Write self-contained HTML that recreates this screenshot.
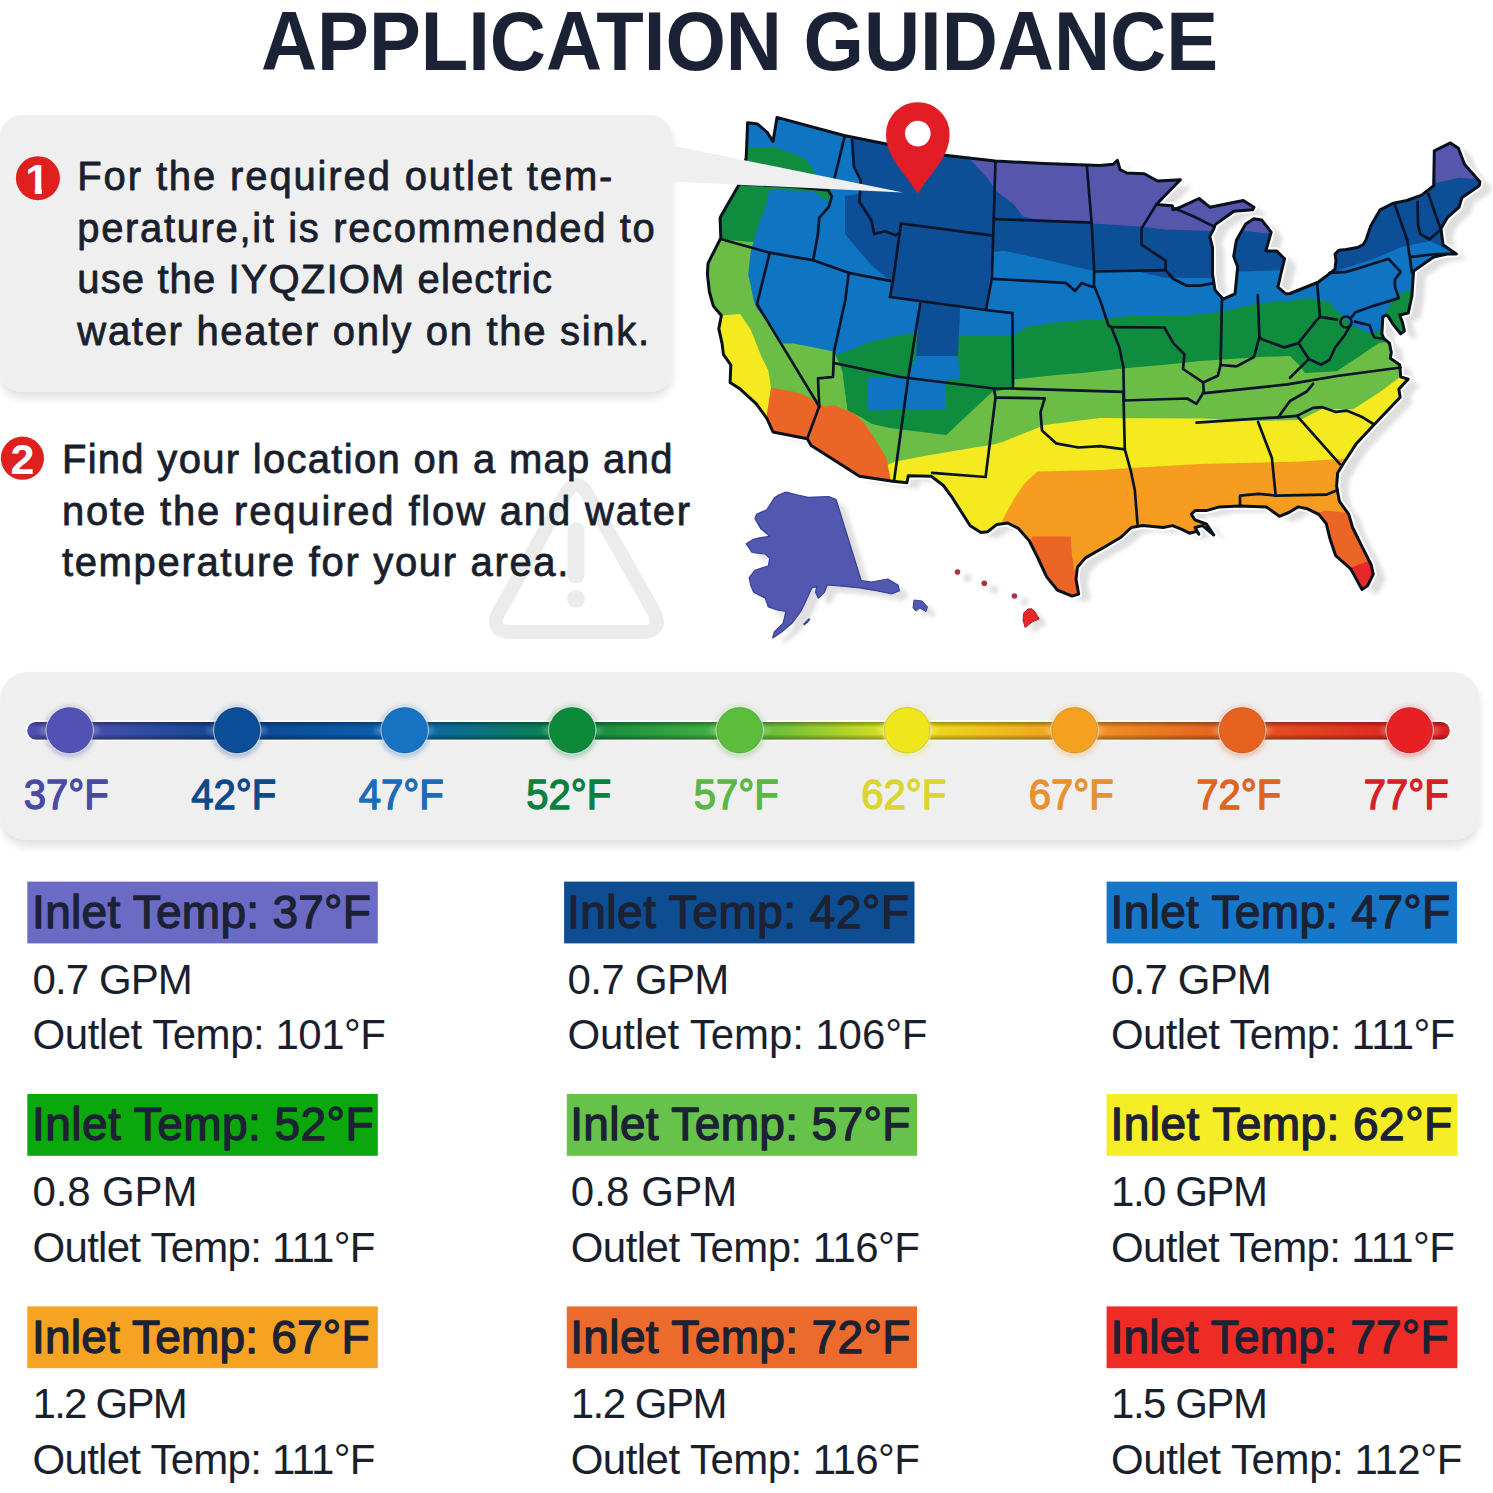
<!DOCTYPE html>
<html><head><meta charset="utf-8"><title>Application Guidance</title>
<style>html,body{margin:0;padding:0;background:#fff;}svg{display:block;}</style>
</head><body>
<svg width="1493" height="1493" viewBox="0 0 1493 1493">
<rect width="1493" height="1493" fill="#ffffff"/>
<defs>
<filter id="sh" x="-10%" y="-20%" width="120%" height="150%">
  <feGaussianBlur in="SourceAlpha" stdDeviation="5"/>
  <feOffset dx="0" dy="6" result="b"/>
  <feComponentTransfer><feFuncA type="linear" slope="0.13"/></feComponentTransfer>
  <feMerge><feMergeNode/><feMergeNode in="SourceGraphic"/></feMerge>
</filter>
<filter id="glow" x="-50%" y="-50%" width="200%" height="200%">
  <feGaussianBlur in="SourceGraphic" stdDeviation="2.5"/>
</filter>
<linearGradient id="bar" x1="27" y1="0" x2="1450" y2="0" gradientUnits="userSpaceOnUse">
  <stop offset="0" stop-color="#4f4fb0"/>
  <stop offset="0.14" stop-color="#0c4a92"/>
  <stop offset="0.26" stop-color="#0f5fb0"/>
  <stop offset="0.38" stop-color="#0c8a3c"/>
  <stop offset="0.50" stop-color="#4cb040"/>
  <stop offset="0.62" stop-color="#e6e020"/>
  <stop offset="0.74" stop-color="#f29a20"/>
  <stop offset="0.86" stop-color="#e45a20"/>
  <stop offset="1" stop-color="#d82020"/>
</linearGradient>
</defs>
<text x="261" y="70" font-family="Liberation Sans, sans-serif" font-weight="700" font-size="83" fill="#1b2236" textLength="957" lengthAdjust="spacingAndGlyphs">APPLICATION GUIDANCE</text>
<g filter="url(#sh)"><rect x="0" y="115" width="672" height="277" rx="22" fill="#efeff0"/></g>
<g id="map">
<defs><clipPath id="usclip"><polygon points="747.6,122.8 757.6,124.1 767.0,132.1 773.0,141.5 777.0,117.4 844.0,135.5 887.5,144.2 942.9,154.9 995.1,161.0 1044.0,163.6 1100.0,165.6 1113.4,164.3 1117.4,160.3 1120.1,169.7 1126.8,173.0 1144.2,173.7 1157.6,181.0 1180.4,179.7 1156.3,204.5 1172.3,205.8 1173.0,209.8 1180.4,207.2 1199.1,198.5 1209.8,207.2 1243.3,200.5 1254.0,207.2 1252.7,209.8 1234.0,211.2 1215.2,224.6 1213.9,228.6 1209.8,236.6 1212.5,247.3 1212.5,274.2 1215.0,290.0 1223.0,299.1 1235.0,293.8 1237.7,267.0 1233.7,256.3 1236.4,240.2 1245.7,224.1 1253.8,218.8 1261.8,220.1 1271.2,232.1 1265.8,250.9 1276.5,250.9 1284.6,258.9 1280.6,275.0 1277.9,287.1 1285.9,293.8 1290.0,293.5 1308.8,286.0 1318.1,282.2 1329.4,273.8 1335.0,269.1 1336.0,260.6 1335.0,254.1 1338.8,250.3 1346.3,249.4 1357.5,247.5 1363.1,244.7 1366.0,240.0 1370.7,225.9 1380.1,209.8 1393.5,203.1 1406.9,200.5 1421.6,195.1 1433.7,185.7 1434.3,150.9 1450.4,142.9 1458.4,148.2 1464.5,164.3 1479.9,181.7 1479.2,185.7 1461.8,197.8 1459.1,207.2 1447.1,217.9 1441.0,228.6 1443.0,244.7 1456.4,254.0 1447.1,254.0 1433.7,257.0 1413.6,271.0 1411.9,296.3 1408.2,313.1 1399.7,315.0 1402.5,322.5 1404.4,331.0 1400.7,333.8 1393.1,324.4 1388.5,316.9 1386.6,315.0 1382.8,316.9 1381.9,333.8 1383.8,338.5 1389.4,343.1 1391.3,352.5 1390.3,358.2 1399.7,364.7 1400.7,376.9 1408.2,379.1 1398.8,389.1 1400.2,397.2 1374.7,424.0 1356.0,444.1 1343.2,463.8 1337.6,473.1 1336.6,486.3 1339.4,501.3 1348.8,514.4 1352.6,527.5 1361.9,546.3 1371.3,565.0 1373.2,574.4 1367.6,585.7 1361.9,589.4 1350.7,568.8 1335.7,555.7 1330.0,538.8 1326.3,523.8 1318.8,514.4 1307.5,508.8 1298.2,506.9 1288.8,512.5 1279.4,516.3 1266.3,506.9 1240.0,506.0 1219.4,506.9 1206.3,510.6 1195.0,510.6 1191.3,514.4 1195.0,520.0 1206.3,523.8 1213.8,535.0 1202.5,525.6 1195.0,527.5 1198.8,534.1 1196.9,531.3 1189.4,533.2 1181.9,529.4 1172.5,525.6 1163.1,527.5 1142.5,525.6 1131.3,527.5 1120.2,537.8 1104.1,547.2 1085.4,557.9 1077.4,567.3 1076.0,579.3 1078.7,594.1 1072.0,596.1 1057.3,590.0 1046.5,576.6 1037.2,556.5 1029.1,540.5 1018.4,528.4 1007.7,523.0 997.0,524.4 987.6,531.8 980.9,532.4 970.2,525.7 960.8,511.0 951.4,496.3 943.4,485.5 931.3,476.2 908.3,475.7 906.9,482.7 892.8,481.3 859.4,476.2 834.0,460.1 811.2,445.4 807.2,438.7 773.0,432.0 767.0,418.6 756.3,403.9 740.2,389.1 730.1,382.4 730.8,365.0 723.4,354.3 722.1,343.6 718.8,328.8 721.4,315.5 713.4,306.1 709.4,292.0 707.4,274.2 708.0,263.4 720.8,238.0 720.1,217.9 721.4,215.2 739.5,183.7 746.2,157.6"/></clipPath><filter id="msh" x="-5%" y="-5%" width="110%" height="110%"><feGaussianBlur stdDeviation="2.2"/></filter></defs>
<g fill="#dfdfdf" filter="url(#msh)">
<polygon points="759.6,128.8 769.6,130.1 779.0,138.1 785.0,147.5 789.0,123.4 856.0,141.5 899.5,150.2 954.9,160.9 1007.1,167.0 1056.0,169.6 1112.0,171.6 1125.4,170.3 1129.4,166.3 1132.1,175.7 1138.8,179.0 1156.2,179.7 1169.6,187.0 1192.4,185.7 1168.3,210.5 1184.3,211.8 1185.0,215.8 1192.4,213.2 1211.1,204.5 1221.8,213.2 1255.3,206.5 1266.0,213.2 1264.7,215.8 1246.0,217.2 1227.2,230.6 1225.9,234.6 1221.8,242.6 1224.5,253.3 1224.5,280.2 1227.0,296.0 1235.0,305.1 1247.0,299.8 1249.7,273.0 1245.7,262.3 1248.4,246.2 1257.7,230.1 1265.8,224.8 1273.8,226.1 1283.2,238.1 1277.8,256.9 1288.5,256.9 1296.6,264.9 1292.6,281.0 1289.9,293.1 1297.9,299.8 1302.0,299.5 1320.8,292.0 1330.1,288.2 1341.4,279.8 1347.0,275.1 1348.0,266.6 1347.0,260.1 1350.8,256.3 1358.3,255.4 1369.5,253.5 1375.1,250.7 1378.0,246.0 1382.7,231.9 1392.1,215.8 1405.5,209.1 1418.9,206.5 1433.6,201.1 1445.7,191.7 1446.3,156.9 1462.4,148.9 1470.4,154.2 1476.5,170.3 1491.9,187.7 1491.2,191.7 1473.8,203.8 1471.1,213.2 1459.1,223.9 1453.0,234.6 1455.0,250.7 1468.4,260.0 1459.1,260.0 1445.7,263.0 1425.6,277.0 1423.9,302.3 1420.2,319.1 1411.7,321.0 1414.5,328.5 1416.4,337.0 1412.7,339.8 1405.1,330.4 1400.5,322.9 1398.6,321.0 1394.8,322.9 1393.9,339.8 1395.8,344.5 1401.4,349.1 1403.3,358.5 1402.3,364.2 1411.7,370.7 1412.7,382.9 1420.2,385.1 1410.8,395.1 1412.2,403.2 1386.7,430.0 1368.0,450.1 1355.2,469.8 1349.6,479.1 1348.6,492.3 1351.4,507.3 1360.8,520.4 1364.6,533.5 1373.9,552.3 1383.3,571.0 1385.2,580.4 1379.6,591.7 1373.9,595.4 1362.7,574.8 1347.7,561.7 1342.0,544.8 1338.3,529.8 1330.8,520.4 1319.5,514.8 1310.2,512.9 1300.8,518.5 1291.4,522.3 1278.3,512.9 1252.0,512.0 1231.4,512.9 1218.3,516.6 1207.0,516.6 1203.3,520.4 1207.0,526.0 1218.3,529.8 1225.8,541.0 1214.5,531.6 1207.0,533.5 1210.8,540.1 1208.9,537.3 1201.4,539.2 1193.9,535.4 1184.5,531.6 1175.1,533.5 1154.5,531.6 1143.3,533.5 1132.2,543.8 1116.1,553.2 1097.4,563.9 1089.4,573.3 1088.0,585.3 1090.7,600.1 1084.0,602.1 1069.3,596.0 1058.5,582.6 1049.2,562.5 1041.1,546.5 1030.4,534.4 1019.7,529.0 1009.0,530.4 999.6,537.8 992.9,538.4 982.2,531.7 972.8,517.0 963.4,502.3 955.4,491.5 943.3,482.2 920.3,481.7 918.9,488.7 904.8,487.3 871.4,482.2 846.0,466.1 823.2,451.4 819.2,444.7 785.0,438.0 779.0,424.6 768.3,409.9 752.2,395.1 742.1,388.4 742.8,371.0 735.4,360.3 734.1,349.6 730.8,334.8 733.4,321.5 725.4,312.1 721.4,298.0 719.4,280.2 720.0,269.4 732.8,244.0 732.1,223.9 733.4,221.2 751.5,189.7 758.2,163.6"/>
<polygon points="787.6,502.0 795.0,499.1 806.8,502.0 817.1,504.3 837.7,503.5 845.1,506.5 870.2,587.5 880.5,589.0 896.7,586.0 907.0,592.0 908.5,597.8 901.1,600.8 886.4,597.8 868.7,594.9 854.0,593.4 836.3,592.0 833.3,599.3 827.4,605.2 824.5,599.3 825.9,593.4 820.8,594.9 814.2,609.6 809.7,618.5 800.9,630.3 790.6,639.1 781.7,645.0 783.2,639.1 792.0,630.3 795.0,618.5 786.2,617.0 777.3,614.0 774.4,605.2 762.6,599.3 759.6,592.0 758.2,584.6 764.0,577.2 777.3,572.8 778.8,565.4 774.4,561.0 761.1,559.5 755.2,550.7 762.6,546.3 768.5,544.8 778.8,543.3 769.9,535.9 764.0,525.6 765.5,521.2 775.8,516.8 783.2,505.0"/>
<polygon points="922.0,606.0 930.0,607.0 935.5,613.0 934.0,617.5 928.0,614.0 924.0,617.0 921.0,614.0"/>
<polygon points="1031.8,618.8 1036.0,615.0 1039.8,614.8 1043.0,618.0 1047.2,624.8 1040.0,628.0 1033.1,633.5 1031.0,626.0"/>
<circle cx="967.5" cy="578" r="4"/>
<circle cx="994.3" cy="589.3" r="4"/>
<circle cx="1024.4" cy="602" r="4"/>
</g>
<polygon points="747.6,122.8 757.6,124.1 767.0,132.1 773.0,141.5 777.0,117.4 844.0,135.5 887.5,144.2 942.9,154.9 995.1,161.0 1044.0,163.6 1100.0,165.6 1113.4,164.3 1117.4,160.3 1120.1,169.7 1126.8,173.0 1144.2,173.7 1157.6,181.0 1180.4,179.7 1156.3,204.5 1172.3,205.8 1173.0,209.8 1180.4,207.2 1199.1,198.5 1209.8,207.2 1243.3,200.5 1254.0,207.2 1252.7,209.8 1234.0,211.2 1215.2,224.6 1213.9,228.6 1209.8,236.6 1212.5,247.3 1212.5,274.2 1215.0,290.0 1223.0,299.1 1235.0,293.8 1237.7,267.0 1233.7,256.3 1236.4,240.2 1245.7,224.1 1253.8,218.8 1261.8,220.1 1271.2,232.1 1265.8,250.9 1276.5,250.9 1284.6,258.9 1280.6,275.0 1277.9,287.1 1285.9,293.8 1290.0,293.5 1308.8,286.0 1318.1,282.2 1329.4,273.8 1335.0,269.1 1336.0,260.6 1335.0,254.1 1338.8,250.3 1346.3,249.4 1357.5,247.5 1363.1,244.7 1366.0,240.0 1370.7,225.9 1380.1,209.8 1393.5,203.1 1406.9,200.5 1421.6,195.1 1433.7,185.7 1434.3,150.9 1450.4,142.9 1458.4,148.2 1464.5,164.3 1479.9,181.7 1479.2,185.7 1461.8,197.8 1459.1,207.2 1447.1,217.9 1441.0,228.6 1443.0,244.7 1456.4,254.0 1447.1,254.0 1433.7,257.0 1413.6,271.0 1411.9,296.3 1408.2,313.1 1399.7,315.0 1402.5,322.5 1404.4,331.0 1400.7,333.8 1393.1,324.4 1388.5,316.9 1386.6,315.0 1382.8,316.9 1381.9,333.8 1383.8,338.5 1389.4,343.1 1391.3,352.5 1390.3,358.2 1399.7,364.7 1400.7,376.9 1408.2,379.1 1398.8,389.1 1400.2,397.2 1374.7,424.0 1356.0,444.1 1343.2,463.8 1337.6,473.1 1336.6,486.3 1339.4,501.3 1348.8,514.4 1352.6,527.5 1361.9,546.3 1371.3,565.0 1373.2,574.4 1367.6,585.7 1361.9,589.4 1350.7,568.8 1335.7,555.7 1330.0,538.8 1326.3,523.8 1318.8,514.4 1307.5,508.8 1298.2,506.9 1288.8,512.5 1279.4,516.3 1266.3,506.9 1240.0,506.0 1219.4,506.9 1206.3,510.6 1195.0,510.6 1191.3,514.4 1195.0,520.0 1206.3,523.8 1213.8,535.0 1202.5,525.6 1195.0,527.5 1198.8,534.1 1196.9,531.3 1189.4,533.2 1181.9,529.4 1172.5,525.6 1163.1,527.5 1142.5,525.6 1131.3,527.5 1120.2,537.8 1104.1,547.2 1085.4,557.9 1077.4,567.3 1076.0,579.3 1078.7,594.1 1072.0,596.1 1057.3,590.0 1046.5,576.6 1037.2,556.5 1029.1,540.5 1018.4,528.4 1007.7,523.0 997.0,524.4 987.6,531.8 980.9,532.4 970.2,525.7 960.8,511.0 951.4,496.3 943.4,485.5 931.3,476.2 908.3,475.7 906.9,482.7 892.8,481.3 859.4,476.2 834.0,460.1 811.2,445.4 807.2,438.7 773.0,432.0 767.0,418.6 756.3,403.9 740.2,389.1 730.1,382.4 730.8,365.0 723.4,354.3 722.1,343.6 718.8,328.8 721.4,315.5 713.4,306.1 709.4,292.0 707.4,274.2 708.0,263.4 720.8,238.0 720.1,217.9 721.4,215.2 739.5,183.7 746.2,157.6" fill="none" stroke="#ffffff" stroke-width="7" stroke-linejoin="round"/>
<g clip-path="url(#usclip)">
<rect x="690" y="100" width="810" height="520" fill="#0f74c2"/>
<polygon points="852.0,130.0 852.0,138.0 854.0,167.0 860.7,180.4 859.4,194.0 845.0,196.0 845.0,234.0 860.0,252.0 874.0,267.5 890.0,280.5 890.0,297.0 920.0,301.5 916.0,356.0 958.0,356.0 960.0,306.0 986.0,310.4 992.7,252.0 1004.1,250.7 1047.0,260.1 1092.5,270.8 1140.0,272.0 1165.0,277.7 1213.0,278.0 1240.0,271.5 1290.0,270.0 1336.0,271.0 1374.4,258.8 1402.5,246.6 1430.0,241.0 1453.7,252.7 1495.0,250.0 1495.0,130.0" fill="#0c4f96"/>
<polygon points="955.0,140.0 971.0,160.0 987.0,177.7 996.4,191.0 1013.9,204.5 1023.0,216.5 1045.0,221.0 1092.0,223.5 1141.0,226.5 1165.0,229.5 1213.0,231.0 1245.0,231.0 1262.0,233.0 1300.0,233.0 1300.0,140.0" fill="#5656ad"/>
<polygon points="1430.0,140.0 1436.0,183.0 1459.1,177.7 1490.0,180.0 1490.0,140.0" fill="#5656ad"/>
<polygon points="834.0,356.0 850.0,350.0 870.0,342.0 900.0,335.0 920.0,333.0 960.0,335.0 1013.5,335.1 1026.9,327.1 1060.4,321.7 1100.6,319.0 1140.8,315.0 1180.0,316.0 1220.0,312.0 1260.0,303.0 1290.0,301.0 1308.8,298.0 1318.0,300.0 1329.4,302.0 1336.9,311.3 1342.5,315.0 1350.0,324.0 1370.0,333.8 1380.0,331.0 1384.0,315.0 1395.0,298.0 1406.0,290.6 1430.0,288.0 1430.0,620.0 834.0,620.0" fill="#108c3f"/>
<polygon points="920.0,301.5 960.0,306.0 958.0,356.0 916.0,356.0" fill="#0c4f96"/>
<polygon points="916.0,356.0 958.0,356.0 960.0,379.0 908.0,378.0" fill="#0f74c2"/>
<polygon points="868.0,378.0 946.0,378.0 946.0,409.0 868.0,410.6" fill="#0f74c2"/>
<polygon points="700.0,146.0 746.0,147.0 772.3,147.0 793.8,153.6 807.2,160.3 813.9,171.0 820.0,182.0 830.0,186.0 833.0,196.0 826.0,201.0 815.0,192.0 769.7,189.0 765.6,207.2 757.6,227.3 753.6,242.0 700.0,242.0" fill="#108c3f"/>
<polygon points="842.0,370.4 847.4,410.6 860.7,417.3 871.5,424.0 890.0,428.0 946.3,434.9 991.3,392.7 1013.0,387.5 1014.8,379.3 1053.7,375.3 1087.2,372.6 1122.0,368.6 1167.5,364.6 1200.0,361.0 1260.0,357.0 1290.0,356.0 1300.0,366.0 1305.0,373.0 1336.9,371.3 1365.0,352.5 1379.0,343.1 1392.0,341.0 1430.0,340.0 1430.0,620.0 842.0,620.0" fill="#6bbd45"/>
<polygon points="700.0,238.0 753.6,242.0 750.9,250.0 748.2,274.2 753.6,300.0 756.0,307.0 783.0,343.6 793.8,343.6 813.9,347.6 834.0,351.6 840.0,365.0 842.0,370.4 847.4,410.6 860.7,417.3 871.5,424.0 900.0,430.7 900.0,520.0 700.0,520.0" fill="#6bbd45"/>
<polygon points="870.0,472.0 895.6,461.6 930.0,455.0 974.4,447.5 992.7,444.7 1002.5,442.0 1044.7,425.0 1100.0,418.0 1200.0,418.6 1260.0,421.0 1300.0,420.0 1322.0,409.0 1353.3,409.2 1380.0,392.0 1400.2,377.0 1430.0,370.0 1430.0,620.0 870.0,620.0" fill="#f5ea20"/>
<polygon points="700.0,312.0 721.4,315.5 740.2,314.1 750.9,330.2 761.6,357.0 768.3,370.4 771.0,387.8 768.3,410.6 767.0,422.0 700.0,422.0" fill="#f5ea20"/>
<polygon points="771.0,387.8 793.8,391.8 805.8,395.8 816.5,402.5 824.6,406.5 834.0,405.2 854.0,413.2 864.8,424.0 874.1,437.4 886.2,457.5 890.2,477.5 890.0,500.0 760.0,500.0 766.0,420.0" fill="#eb6527"/>
<polygon points="985.0,560.0 1003.7,517.7 1013.1,500.3 1023.8,484.2 1037.2,471.5 1100.0,470.0 1130.0,468.0 1200.0,464.0 1300.0,461.5 1340.0,459.0 1430.0,458.0 1430.0,620.0 985.0,620.0" fill="#f69d21"/>
<polygon points="1031.8,536.5 1070.7,536.5 1072.0,556.5 1082.0,610.0 1020.0,610.0" fill="#eb6527"/>
<polygon points="1310.0,516.0 1318.8,512.5 1326.3,510.6 1345.0,512.5 1390.0,515.0 1390.0,610.0 1310.0,610.0" fill="#eb6527"/>
<polygon points="1340.0,570.0 1352.6,567.0 1367.6,561.3 1390.0,558.0 1390.0,610.0 1340.0,610.0" fill="#e5292b"/>
</g>
<g fill="none" stroke="#0a1428" stroke-width="2.7" stroke-linejoin="round" stroke-linecap="round">
<polyline points="739.5,184.0 790.0,186.5 828.6,190.5"/>
<polyline points="844.7,136.2 835.3,175.0 832.0,186.0"/>
<polyline points="828.6,191.0 832.0,196.4 828.6,207.2 819.2,217.9 817.9,234.0 813.2,260.1"/>
<polyline points="721.4,239.3 769.7,252.7 812.5,260.1 848.7,272.8 890.2,280.8"/>
<polyline points="852.0,140.2 854.0,167.0 860.7,180.4 859.4,201.8 871.5,220.6 874.2,234.0 884.9,231.3 895.6,235.3 899.0,233.0"/>
<polyline points="901.0,223.5 893.0,281.0 890.0,297.0"/>
<polyline points="901.0,223.5 991.0,235.3"/>
<polyline points="995.4,161.6 993.8,217.9 991.8,278.2 986.0,310.0"/>
<polyline points="890.0,297.0 986.0,310.0 1012.4,313.2"/>
<polyline points="1012.4,313.2 1013.0,388.5"/>
<polyline points="995.0,219.2 1091.6,222.6"/>
<polyline points="992.1,278.8 1065.7,282.9 1075.1,290.9 1081.8,282.9 1092.5,286.9"/>
<polyline points="1086.9,166.3 1091.6,222.6 1094.2,270.1 1093.9,285.5 1100.6,301.6 1108.6,325.7 1111.3,327.1"/>
<polyline points="1095.2,271.5 1165.6,270.1"/>
<polyline points="1156.3,204.5 1141.5,228.6 1141.5,244.7 1157.6,255.4 1165.6,260.7 1165.6,270.1"/>
<polyline points="1165.6,270.1 1173.4,279.0 1186.8,285.7 1200.2,285.7 1213.6,283.1"/>
<polyline points="1175.0,208.5 1193.8,216.5 1212.5,225.9"/>
<polyline points="1111.3,327.1 1164.3,327.5"/>
<polyline points="1111.3,327.1 1119.3,347.2 1123.4,367.3 1124.0,399.4"/>
<polyline points="834.0,363.0 900.0,377.0 994.0,388.5 1013.8,388.5 1123.4,391.8"/>
<polyline points="848.7,272.8 845.3,300.0 834.0,351.6 833.0,377.0 818.0,378.4 819.2,406.5"/>
<polyline points="920.2,303.4 908.3,377.2 894.2,479.9"/>
<polyline points="769.7,252.7 757.0,304.0 819.2,406.5"/>
<polyline points="819.2,406.5 807.2,438.7"/>
<polyline points="994.0,388.5 995.5,397.6 985.6,477.0 932.2,472.8"/>
<polyline points="995.5,397.6 1044.7,398.3 1040.5,412.4 1042.0,430.6 1056.0,443.3 1078.5,447.5 1100.0,446.1 1124.8,449.4"/>
<polyline points="1123.4,391.8 1124.8,449.4 1130.8,470.8 1134.8,490.0 1137.5,523.7"/>
<polyline points="1123.4,400.5 1187.1,398.5 1196.5,403.9 1203.8,391.8"/>
<polyline points="1164.3,327.5 1173.7,343.6 1184.4,354.3 1183.0,369.0 1203.1,382.4 1203.8,391.8"/>
<polyline points="1221.9,300.7 1220.6,365.0 1217.9,375.7 1203.1,382.4"/>
<polyline points="1259.4,336.9 1254.0,357.0 1236.6,366.4 1220.6,365.0"/>
<polyline points="1257.8,295.1 1259.4,336.9"/>
<polyline points="1259.4,336.9 1261.8,339.3 1284.6,347.4 1298.4,343.1 1316.3,320.6 1320.0,316.9"/>
<polyline points="1317.2,284.1 1320.0,316.9"/>
<polyline points="1298.4,343.1 1308.8,359.1 1321.0,364.7 1329.4,360.0 1335.0,347.8 1344.4,335.6 1351.0,324.4"/>
<polyline points="1290.0,377.8 1308.8,359.1"/>
<polyline points="1204.5,393.1 1287.5,384.4 1336.9,376.0 1400.7,367.5"/>
<polyline points="1196.5,422.6 1278.2,417.3 1297.0,415.9"/>
<polyline points="1278.2,417.3 1290.0,401.0 1306.4,391.8 1313.1,383.8"/>
<polyline points="1297.0,415.9 1313.1,407.9 1322.5,407.2 1335.9,411.9 1346.6,410.6 1362.7,417.3 1373.4,424.0"/>
<polyline points="1297.0,415.9 1339.9,464.1"/>
<polyline points="1258.1,422.0 1271.9,458.1 1275.7,495.6"/>
<polyline points="1240.0,505.0 1240.0,495.6 1258.8,493.8 1275.7,495.6 1326.3,494.7 1337.6,490.0"/>
<polyline points="1329.4,272.8 1346.3,271.9 1365.0,266.3 1388.5,258.8 1400.7,271.9 1395.0,279.4 1395.0,286.9 1398.8,298.1 1374.4,305.6 1355.6,312.2 1351.0,317.8"/>
<polyline points="1320.0,316.9 1336.9,319.7"/>
<polyline points="1354.7,321.6 1369.7,325.3 1372.5,333.8 1374.4,337.5 1381.9,338.5"/>
<polyline points="1394.8,204.5 1407.2,240.0 1410.0,258.8 1411.9,272.8"/>
<polyline points="1428.3,193.8 1440.4,228.6"/>
<polyline points="1411.0,256.9 1436.3,254.0 1447.0,254.0"/>
<polyline points="1417.6,201.8 1418.0,225.0 1420.3,234.0 1429.6,239.3 1439.0,231.3"/>
<circle cx="1346" cy="322" r="5.5"/>
</g>
<polygon points="747.6,122.8 757.6,124.1 767.0,132.1 773.0,141.5 777.0,117.4 844.0,135.5 887.5,144.2 942.9,154.9 995.1,161.0 1044.0,163.6 1100.0,165.6 1113.4,164.3 1117.4,160.3 1120.1,169.7 1126.8,173.0 1144.2,173.7 1157.6,181.0 1180.4,179.7 1156.3,204.5 1172.3,205.8 1173.0,209.8 1180.4,207.2 1199.1,198.5 1209.8,207.2 1243.3,200.5 1254.0,207.2 1252.7,209.8 1234.0,211.2 1215.2,224.6 1213.9,228.6 1209.8,236.6 1212.5,247.3 1212.5,274.2 1215.0,290.0 1223.0,299.1 1235.0,293.8 1237.7,267.0 1233.7,256.3 1236.4,240.2 1245.7,224.1 1253.8,218.8 1261.8,220.1 1271.2,232.1 1265.8,250.9 1276.5,250.9 1284.6,258.9 1280.6,275.0 1277.9,287.1 1285.9,293.8 1290.0,293.5 1308.8,286.0 1318.1,282.2 1329.4,273.8 1335.0,269.1 1336.0,260.6 1335.0,254.1 1338.8,250.3 1346.3,249.4 1357.5,247.5 1363.1,244.7 1366.0,240.0 1370.7,225.9 1380.1,209.8 1393.5,203.1 1406.9,200.5 1421.6,195.1 1433.7,185.7 1434.3,150.9 1450.4,142.9 1458.4,148.2 1464.5,164.3 1479.9,181.7 1479.2,185.7 1461.8,197.8 1459.1,207.2 1447.1,217.9 1441.0,228.6 1443.0,244.7 1456.4,254.0 1447.1,254.0 1433.7,257.0 1413.6,271.0 1411.9,296.3 1408.2,313.1 1399.7,315.0 1402.5,322.5 1404.4,331.0 1400.7,333.8 1393.1,324.4 1388.5,316.9 1386.6,315.0 1382.8,316.9 1381.9,333.8 1383.8,338.5 1389.4,343.1 1391.3,352.5 1390.3,358.2 1399.7,364.7 1400.7,376.9 1408.2,379.1 1398.8,389.1 1400.2,397.2 1374.7,424.0 1356.0,444.1 1343.2,463.8 1337.6,473.1 1336.6,486.3 1339.4,501.3 1348.8,514.4 1352.6,527.5 1361.9,546.3 1371.3,565.0 1373.2,574.4 1367.6,585.7 1361.9,589.4 1350.7,568.8 1335.7,555.7 1330.0,538.8 1326.3,523.8 1318.8,514.4 1307.5,508.8 1298.2,506.9 1288.8,512.5 1279.4,516.3 1266.3,506.9 1240.0,506.0 1219.4,506.9 1206.3,510.6 1195.0,510.6 1191.3,514.4 1195.0,520.0 1206.3,523.8 1213.8,535.0 1202.5,525.6 1195.0,527.5 1198.8,534.1 1196.9,531.3 1189.4,533.2 1181.9,529.4 1172.5,525.6 1163.1,527.5 1142.5,525.6 1131.3,527.5 1120.2,537.8 1104.1,547.2 1085.4,557.9 1077.4,567.3 1076.0,579.3 1078.7,594.1 1072.0,596.1 1057.3,590.0 1046.5,576.6 1037.2,556.5 1029.1,540.5 1018.4,528.4 1007.7,523.0 997.0,524.4 987.6,531.8 980.9,532.4 970.2,525.7 960.8,511.0 951.4,496.3 943.4,485.5 931.3,476.2 908.3,475.7 906.9,482.7 892.8,481.3 859.4,476.2 834.0,460.1 811.2,445.4 807.2,438.7 773.0,432.0 767.0,418.6 756.3,403.9 740.2,389.1 730.1,382.4 730.8,365.0 723.4,354.3 722.1,343.6 718.8,328.8 721.4,315.5 713.4,306.1 709.4,292.0 707.4,274.2 708.0,263.4 720.8,238.0 720.1,217.9 721.4,215.2 739.5,183.7 746.2,157.6" fill="none" stroke="#08101c" stroke-width="3" stroke-linejoin="round"/>
<polygon points="778.6,495.0 786.0,492.1 797.8,495.0 808.1,497.3 828.7,496.5 836.1,499.5 861.2,580.5 871.5,582.0 887.7,579.0 898.0,585.0 899.5,590.8 892.1,593.8 877.4,590.8 859.7,587.9 845.0,586.4 827.3,585.0 824.3,592.3 818.4,598.2 815.5,592.3 816.9,586.4 811.8,587.9 805.2,602.6 800.7,611.5 791.9,623.3 781.6,632.1 772.7,638.0 774.2,632.1 783.0,623.3 786.0,611.5 777.2,610.0 768.3,607.0 765.4,598.2 753.6,592.3 750.6,585.0 749.2,577.6 755.0,570.2 768.3,565.8 769.8,558.4 765.4,554.0 752.1,552.5 746.2,543.7 753.6,539.3 759.5,537.8 769.8,536.3 760.9,528.9 755.0,518.6 756.5,514.2 766.8,509.8 774.2,498.0" fill="#5257b0" stroke="#3a3f98" stroke-width="1.2" stroke-linejoin="round"/>
<polygon points="914.0,600.0 922.0,601.0 927.5,607.0 926.0,611.5 920.0,608.0 916.0,611.0 913.0,608.0" fill="#5257b0" stroke="#3a3f98" stroke-width="1"/>
<polygon points="803.7,624.7 809.6,618.8 807,622" fill="#3a3f98" stroke="#3a3f98" stroke-width="2"/>
<circle cx="957.5" cy="572" r="2.8" fill="#b03040"/>
<circle cx="984.3" cy="583.3" r="2.8" fill="#b03040"/>
<circle cx="1014.4" cy="596" r="2.8" fill="#b03040"/>
<polygon points="1023.8,612.8 1028.0,609.0 1031.8,608.8 1035.0,612.0 1039.2,618.8 1032.0,622.0 1025.1,627.5 1023.0,620.0" fill="#e8262a" stroke="#b02030" stroke-width="1"/>
</g>
<polygon points="660,143 903,192.5 660,181" fill="#efeff0"/>
<g>
<path d="M917.8,194 C905,172 886,158 886,134 A31.8,31.8 0 1 1 949.6,134 C949.6,158 930.6,172 917.8,194 Z" fill="#e21d26"/>
<circle cx="917.8" cy="133.6" r="12.8" fill="#ffffff"/>
</g>
<circle cx="37.9" cy="178.2" r="22" fill="#e0201f"/>
<text x="37.2" y="194" text-anchor="middle" font-family="Liberation Sans, sans-serif" font-weight="700" font-size="43" fill="#fff">1</text>
<rect x="26.5" y="188.6" width="8.3" height="6.2" fill="#e0201f"/><rect x="41.9" y="188.6" width="7.6" height="6.2" fill="#e0201f"/>
<circle cx="22.4" cy="458.2" r="21.6" fill="#e0201f"/>
<text x="22.4" y="474" text-anchor="middle" font-family="Liberation Sans, sans-serif" font-weight="700" font-size="43" fill="#fff">2</text>
<text x="77.3" y="190.2" font-family="Liberation Sans, sans-serif" font-weight="400" font-size="40" fill="#1a1f2d" stroke="#1a1f2d" stroke-width="0.8" stroke-linejoin="round" textLength="535.1" lengthAdjust="spacing" text-anchor="start">For the required outlet tem-</text>
<text x="77.3" y="241.6" font-family="Liberation Sans, sans-serif" font-weight="400" font-size="40" fill="#1a1f2d" stroke="#1a1f2d" stroke-width="0.8" stroke-linejoin="round" textLength="577.5" lengthAdjust="spacing" text-anchor="start">perature,it is recommended to</text>
<text x="77.3" y="293.2" font-family="Liberation Sans, sans-serif" font-weight="400" font-size="40" fill="#1a1f2d" stroke="#1a1f2d" stroke-width="0.8" stroke-linejoin="round" textLength="474.8" lengthAdjust="spacing" text-anchor="start">use the IYQZIOM electric</text>
<text x="77.3" y="344.9" font-family="Liberation Sans, sans-serif" font-weight="400" font-size="40" fill="#1a1f2d" stroke="#1a1f2d" stroke-width="0.8" stroke-linejoin="round" textLength="571.8000000000001" lengthAdjust="spacing" text-anchor="start">water heater only on the sink.</text>
<g fill="none" stroke="#ececec" stroke-width="14" stroke-linejoin="round" stroke-linecap="round">
<path d="M565,495 Q576.5,474 588,495 L653,610 Q665,632 641,632 L512,632 Q488,632 500,610 Z"/>
</g>
<line x1="576" y1="531" x2="576" y2="575" stroke="#ececec" stroke-width="17" stroke-linecap="round"/>
<circle cx="576" cy="599" r="9" fill="#ececec"/>
<text x="61.9" y="472.8" font-family="Liberation Sans, sans-serif" font-weight="400" font-size="40" fill="#1a1f2d" stroke="#1a1f2d" stroke-width="0.8" stroke-linejoin="round" textLength="610.5" lengthAdjust="spacing" text-anchor="start">Find your location on a map and</text>
<text x="61.9" y="524.6" font-family="Liberation Sans, sans-serif" font-weight="400" font-size="40" fill="#1a1f2d" stroke="#1a1f2d" stroke-width="0.8" stroke-linejoin="round" textLength="628.2" lengthAdjust="spacing" text-anchor="start">note the required flow and water</text>
<text x="61.9" y="575.8" font-family="Liberation Sans, sans-serif" font-weight="400" font-size="40" fill="#1a1f2d" stroke="#1a1f2d" stroke-width="0.8" stroke-linejoin="round" textLength="506.5" lengthAdjust="spacing" text-anchor="start">temperature for your area.</text>
<g filter="url(#sh)"><rect x="1" y="672" width="1478" height="168" rx="26" fill="#efefef"/></g>
<defs><linearGradient id="bar2" x1="27" y1="0" x2="1450" y2="0" gradientUnits="userSpaceOnUse"><stop offset="0.0300" stop-color="#5050b0"/><stop offset="0.1477" stop-color="#0c4690"/><stop offset="0.2654" stop-color="#0a62b4"/><stop offset="0.3831" stop-color="#0a8640"/><stop offset="0.5008" stop-color="#4cb640"/><stop offset="0.6186" stop-color="#ece41e"/><stop offset="0.7363" stop-color="#f29a22"/><stop offset="0.8540" stop-color="#e4581e"/><stop offset="0.9717" stop-color="#dc2224"/></linearGradient><linearGradient id="barsh" x1="0" y1="721.9" x2="0" y2="739.5" gradientUnits="userSpaceOnUse"><stop offset="0" stop-color="#000" stop-opacity="0.35"/><stop offset="0.3" stop-color="#000" stop-opacity="0"/><stop offset="0.7" stop-color="#000" stop-opacity="0"/><stop offset="1" stop-color="#000" stop-opacity="0.35"/></linearGradient></defs>
<line x1="36" y1="730.7" x2="1441" y2="730.7" stroke="#ffffff" stroke-width="21" stroke-linecap="round" opacity="0.8"/>
<line x1="36" y1="730.7" x2="1441" y2="730.7" stroke="url(#bar2)" stroke-width="17.6" stroke-linecap="round"/>
<line x1="36" y1="730.7" x2="1441" y2="730.7" stroke="url(#barsh)" stroke-width="17.6" stroke-linecap="round"/>
<ellipse cx="69.7" cy="730.6" rx="30" ry="5" fill="#ffffff" opacity="0.35" filter="url(#glow)"/>
<circle cx="69.7" cy="731.5" r="25.5" fill="#5252b4" opacity="0.35" filter="url(#glow)"/>
<circle cx="69.7" cy="730.2" r="24.2" fill="#ffffff" opacity="0.6"/>
<circle cx="69.7" cy="730.2" r="23" fill="#5252b4" stroke="#000" stroke-opacity="0.12" stroke-width="1.4"/>
<text x="66.2" y="808.7" text-anchor="middle" font-family="Liberation Sans, sans-serif" font-weight="400" font-size="42" fill="#4a4aa4" stroke="#4a4aa4" stroke-width="1.3" stroke-linejoin="round" textLength="85" lengthAdjust="spacingAndGlyphs">37°F</text>
<ellipse cx="237.2" cy="730.6" rx="30" ry="5" fill="#ffffff" opacity="0.35" filter="url(#glow)"/>
<circle cx="237.2" cy="731.5" r="25.5" fill="#0b4d96" opacity="0.35" filter="url(#glow)"/>
<circle cx="237.2" cy="730.2" r="24.2" fill="#ffffff" opacity="0.6"/>
<circle cx="237.2" cy="730.2" r="23" fill="#0b4d96" stroke="#000" stroke-opacity="0.12" stroke-width="1.4"/>
<text x="233.7" y="808.7" text-anchor="middle" font-family="Liberation Sans, sans-serif" font-weight="400" font-size="42" fill="#0c4a8a" stroke="#0c4a8a" stroke-width="1.3" stroke-linejoin="round" textLength="85" lengthAdjust="spacingAndGlyphs">42°F</text>
<ellipse cx="404.7" cy="730.6" rx="30" ry="5" fill="#ffffff" opacity="0.35" filter="url(#glow)"/>
<circle cx="404.7" cy="731.5" r="25.5" fill="#1872c2" opacity="0.35" filter="url(#glow)"/>
<circle cx="404.7" cy="730.2" r="24.2" fill="#ffffff" opacity="0.6"/>
<circle cx="404.7" cy="730.2" r="23" fill="#1872c2" stroke="#000" stroke-opacity="0.12" stroke-width="1.4"/>
<text x="401.2" y="808.7" text-anchor="middle" font-family="Liberation Sans, sans-serif" font-weight="400" font-size="42" fill="#1a6cb8" stroke="#1a6cb8" stroke-width="1.3" stroke-linejoin="round" textLength="85" lengthAdjust="spacingAndGlyphs">47°F</text>
<ellipse cx="572.2" cy="730.6" rx="30" ry="5" fill="#ffffff" opacity="0.35" filter="url(#glow)"/>
<circle cx="572.2" cy="731.5" r="25.5" fill="#0c8a3a" opacity="0.35" filter="url(#glow)"/>
<circle cx="572.2" cy="730.2" r="24.2" fill="#ffffff" opacity="0.6"/>
<circle cx="572.2" cy="730.2" r="23" fill="#0c8a3a" stroke="#000" stroke-opacity="0.12" stroke-width="1.4"/>
<text x="568.7" y="808.7" text-anchor="middle" font-family="Liberation Sans, sans-serif" font-weight="400" font-size="42" fill="#0c8040" stroke="#0c8040" stroke-width="1.3" stroke-linejoin="round" textLength="85" lengthAdjust="spacingAndGlyphs">52°F</text>
<ellipse cx="739.7" cy="730.6" rx="30" ry="5" fill="#ffffff" opacity="0.35" filter="url(#glow)"/>
<circle cx="739.7" cy="731.5" r="25.5" fill="#5cbc3c" opacity="0.35" filter="url(#glow)"/>
<circle cx="739.7" cy="730.2" r="24.2" fill="#ffffff" opacity="0.6"/>
<circle cx="739.7" cy="730.2" r="23" fill="#5cbc3c" stroke="#000" stroke-opacity="0.12" stroke-width="1.4"/>
<text x="736.2" y="808.7" text-anchor="middle" font-family="Liberation Sans, sans-serif" font-weight="400" font-size="42" fill="#5ab842" stroke="#5ab842" stroke-width="1.3" stroke-linejoin="round" textLength="85" lengthAdjust="spacingAndGlyphs">57°F</text>
<ellipse cx="907.2" cy="730.6" rx="30" ry="5" fill="#ffffff" opacity="0.35" filter="url(#glow)"/>
<circle cx="907.2" cy="731.5" r="25.5" fill="#efe61c" opacity="0.35" filter="url(#glow)"/>
<circle cx="907.2" cy="730.2" r="24.2" fill="#ffffff" opacity="0.6"/>
<circle cx="907.2" cy="730.2" r="23" fill="#efe61c" stroke="#000" stroke-opacity="0.12" stroke-width="1.4"/>
<text x="903.7" y="808.7" text-anchor="middle" font-family="Liberation Sans, sans-serif" font-weight="400" font-size="42" fill="#dcd430" stroke="#dcd430" stroke-width="1.3" stroke-linejoin="round" textLength="85" lengthAdjust="spacingAndGlyphs">62°F</text>
<ellipse cx="1074.7" cy="730.6" rx="30" ry="5" fill="#ffffff" opacity="0.35" filter="url(#glow)"/>
<circle cx="1074.7" cy="731.5" r="25.5" fill="#f4a020" opacity="0.35" filter="url(#glow)"/>
<circle cx="1074.7" cy="730.2" r="24.2" fill="#ffffff" opacity="0.6"/>
<circle cx="1074.7" cy="730.2" r="23" fill="#f4a020" stroke="#000" stroke-opacity="0.12" stroke-width="1.4"/>
<text x="1071.2" y="808.7" text-anchor="middle" font-family="Liberation Sans, sans-serif" font-weight="400" font-size="42" fill="#e8902e" stroke="#e8902e" stroke-width="1.3" stroke-linejoin="round" textLength="85" lengthAdjust="spacingAndGlyphs">67°F</text>
<ellipse cx="1242.2" cy="730.6" rx="30" ry="5" fill="#ffffff" opacity="0.35" filter="url(#glow)"/>
<circle cx="1242.2" cy="731.5" r="25.5" fill="#e6621e" opacity="0.35" filter="url(#glow)"/>
<circle cx="1242.2" cy="730.2" r="24.2" fill="#ffffff" opacity="0.6"/>
<circle cx="1242.2" cy="730.2" r="23" fill="#e6621e" stroke="#000" stroke-opacity="0.12" stroke-width="1.4"/>
<text x="1238.7" y="808.7" text-anchor="middle" font-family="Liberation Sans, sans-serif" font-weight="400" font-size="42" fill="#de6424" stroke="#de6424" stroke-width="1.3" stroke-linejoin="round" textLength="85" lengthAdjust="spacingAndGlyphs">72°F</text>
<ellipse cx="1409.7" cy="730.6" rx="30" ry="5" fill="#ffffff" opacity="0.35" filter="url(#glow)"/>
<circle cx="1409.7" cy="731.5" r="25.5" fill="#e82024" opacity="0.35" filter="url(#glow)"/>
<circle cx="1409.7" cy="730.2" r="24.2" fill="#ffffff" opacity="0.6"/>
<circle cx="1409.7" cy="730.2" r="23" fill="#e82024" stroke="#000" stroke-opacity="0.12" stroke-width="1.4"/>
<text x="1406.2" y="808.7" text-anchor="middle" font-family="Liberation Sans, sans-serif" font-weight="400" font-size="42" fill="#d62026" stroke="#d62026" stroke-width="1.3" stroke-linejoin="round" textLength="85" lengthAdjust="spacingAndGlyphs">77°F</text>
<rect x="27.3" y="881.6" width="350.5" height="61.8" fill="#6b6bc6"/>
<text x="32.1" y="927.8" font-family="Liberation Sans, sans-serif" font-weight="400" font-size="46" fill="#1c2233" stroke="#1c2233" stroke-width="1.3" stroke-linejoin="round" textLength="338.8" lengthAdjust="spacing" text-anchor="start">Inlet Temp: 37°F</text>
<text x="32.6" y="993.6" font-family="Liberation Sans, sans-serif" font-weight="400" font-size="42" fill="#1a1f2d" textLength="160.2" lengthAdjust="spacing" text-anchor="start">0.7 GPM</text>
<text x="32.6" y="1049.4" font-family="Liberation Sans, sans-serif" font-weight="400" font-size="42" fill="#1a1f2d" textLength="353.4" lengthAdjust="spacing" text-anchor="start">Outlet Temp: 101°F</text>
<rect x="564.1" y="881.6" width="350.4" height="61.8" fill="#0e4d92"/>
<text x="567.0" y="927.8" font-family="Liberation Sans, sans-serif" font-weight="400" font-size="46" fill="#1c2233" stroke="#1c2233" stroke-width="1.3" stroke-linejoin="round" textLength="342.0" lengthAdjust="spacing" text-anchor="start">Inlet Temp: 42°F</text>
<text x="567.5" y="993.6" font-family="Liberation Sans, sans-serif" font-weight="400" font-size="42" fill="#1a1f2d" textLength="161.8" lengthAdjust="spacing" text-anchor="start">0.7 GPM</text>
<text x="567.5" y="1049.4" font-family="Liberation Sans, sans-serif" font-weight="400" font-size="42" fill="#1a1f2d" textLength="360.0" lengthAdjust="spacing" text-anchor="start">Outlet Temp: 106°F</text>
<rect x="1106.6" y="881.6" width="350.4" height="61.8" fill="#1677c8"/>
<text x="1110.6" y="927.8" font-family="Liberation Sans, sans-serif" font-weight="400" font-size="46" fill="#1c2233" stroke="#1c2233" stroke-width="1.3" stroke-linejoin="round" textLength="339.6" lengthAdjust="spacing" text-anchor="start">Inlet Temp: 47°F</text>
<text x="1111.1" y="993.6" font-family="Liberation Sans, sans-serif" font-weight="400" font-size="42" fill="#1a1f2d" textLength="160.7" lengthAdjust="spacing" text-anchor="start">0.7 GPM</text>
<text x="1111.1" y="1049.4" font-family="Liberation Sans, sans-serif" font-weight="400" font-size="42" fill="#1a1f2d" textLength="344.1" lengthAdjust="spacing" text-anchor="start">Outlet Temp: 111°F</text>
<rect x="27.3" y="1094.0" width="350.5" height="61.8" fill="#0aa80c"/>
<text x="32.1" y="1140.2" font-family="Liberation Sans, sans-serif" font-weight="400" font-size="46" fill="#1c2233" stroke="#1c2233" stroke-width="1.3" stroke-linejoin="round" textLength="341.4" lengthAdjust="spacing" text-anchor="start">Inlet Temp: 52°F</text>
<text x="32.6" y="1206.0" font-family="Liberation Sans, sans-serif" font-weight="400" font-size="42" fill="#1a1f2d" textLength="164.8" lengthAdjust="spacing" text-anchor="start">0.8 GPM</text>
<text x="32.6" y="1261.8" font-family="Liberation Sans, sans-serif" font-weight="400" font-size="42" fill="#1a1f2d" textLength="342.8" lengthAdjust="spacing" text-anchor="start">Outlet Temp: 111°F</text>
<rect x="566.8" y="1094.0" width="350.2" height="61.8" fill="#66c24a"/>
<text x="570.2" y="1140.2" font-family="Liberation Sans, sans-serif" font-weight="400" font-size="46" fill="#1c2233" stroke="#1c2233" stroke-width="1.3" stroke-linejoin="round" textLength="340.2" lengthAdjust="spacing" text-anchor="start">Inlet Temp: 57°F</text>
<text x="570.7" y="1206.0" font-family="Liberation Sans, sans-serif" font-weight="400" font-size="42" fill="#1a1f2d" textLength="166.6" lengthAdjust="spacing" text-anchor="start">0.8 GPM</text>
<text x="570.7" y="1261.8" font-family="Liberation Sans, sans-serif" font-weight="400" font-size="42" fill="#1a1f2d" textLength="349.3" lengthAdjust="spacing" text-anchor="start">Outlet Temp: 116°F</text>
<rect x="1106.6" y="1094.0" width="350.8" height="61.8" fill="#f5ee26"/>
<text x="1110.5" y="1140.2" font-family="Liberation Sans, sans-serif" font-weight="400" font-size="46" fill="#1c2233" stroke="#1c2233" stroke-width="1.3" stroke-linejoin="round" textLength="341.6" lengthAdjust="spacing" text-anchor="start">Inlet Temp: 62°F</text>
<text x="1111.0" y="1206.0" font-family="Liberation Sans, sans-serif" font-weight="400" font-size="42" fill="#1a1f2d" textLength="156.9" lengthAdjust="spacing" text-anchor="start">1.0 GPM</text>
<text x="1111.0" y="1261.8" font-family="Liberation Sans, sans-serif" font-weight="400" font-size="42" fill="#1a1f2d" textLength="343.8" lengthAdjust="spacing" text-anchor="start">Outlet Temp: 111°F</text>
<rect x="27.3" y="1306.4" width="350.5" height="61.8" fill="#f6a323"/>
<text x="32.1" y="1352.6" font-family="Liberation Sans, sans-serif" font-weight="400" font-size="46" fill="#1c2233" stroke="#1c2233" stroke-width="1.3" stroke-linejoin="round" textLength="337.4" lengthAdjust="spacing" text-anchor="start">Inlet Temp: 67°F</text>
<text x="32.6" y="1418.4" font-family="Liberation Sans, sans-serif" font-weight="400" font-size="42" fill="#1a1f2d" textLength="155.1" lengthAdjust="spacing" text-anchor="start">1.2 GPM</text>
<text x="32.6" y="1474.2" font-family="Liberation Sans, sans-serif" font-weight="400" font-size="42" fill="#1a1f2d" textLength="342.8" lengthAdjust="spacing" text-anchor="start">Outlet Temp: 111°F</text>
<rect x="566.8" y="1306.4" width="350.2" height="61.8" fill="#ec6a2c"/>
<text x="570.2" y="1352.6" font-family="Liberation Sans, sans-serif" font-weight="400" font-size="46" fill="#1c2233" stroke="#1c2233" stroke-width="1.3" stroke-linejoin="round" textLength="340.2" lengthAdjust="spacing" text-anchor="start">Inlet Temp: 72°F</text>
<text x="570.7" y="1418.4" font-family="Liberation Sans, sans-serif" font-weight="400" font-size="42" fill="#1a1f2d" textLength="156.9" lengthAdjust="spacing" text-anchor="start">1.2 GPM</text>
<text x="570.7" y="1474.2" font-family="Liberation Sans, sans-serif" font-weight="400" font-size="42" fill="#1a1f2d" textLength="349.3" lengthAdjust="spacing" text-anchor="start">Outlet Temp: 116°F</text>
<rect x="1106.6" y="1306.4" width="350.8" height="61.8" fill="#ee2b24"/>
<text x="1110.5" y="1352.6" font-family="Liberation Sans, sans-serif" font-weight="400" font-size="46" fill="#1c2233" stroke="#1c2233" stroke-width="1.3" stroke-linejoin="round" textLength="338.0" lengthAdjust="spacing" text-anchor="start">Inlet Temp: 77°F</text>
<text x="1111.0" y="1418.4" font-family="Liberation Sans, sans-serif" font-weight="400" font-size="42" fill="#1a1f2d" textLength="156.9" lengthAdjust="spacing" text-anchor="start">1.5 GPM</text>
<text x="1111.0" y="1474.2" font-family="Liberation Sans, sans-serif" font-weight="400" font-size="42" fill="#1a1f2d" textLength="351.3" lengthAdjust="spacing" text-anchor="start">Outlet Temp: 112°F</text>
</svg>
</body></html>
